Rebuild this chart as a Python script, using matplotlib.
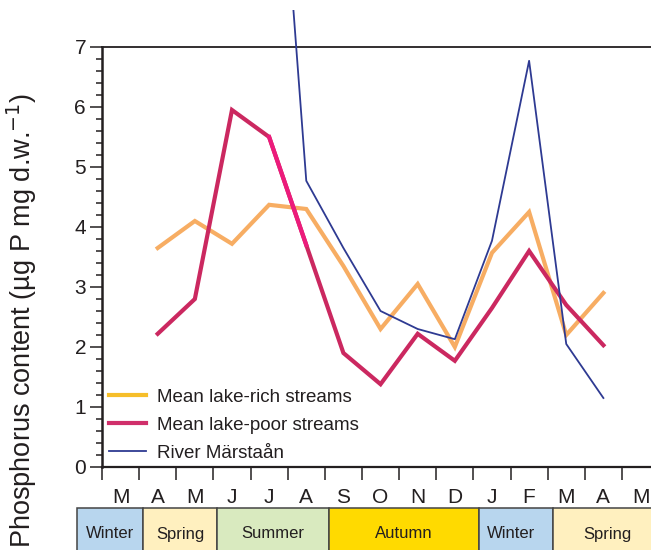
import matplotlib
matplotlib.use("Agg")
import matplotlib.pyplot as plt
from matplotlib.lines import Line2D
from matplotlib.patches import Rectangle
from matplotlib.transforms import Bbox, TransformedBbox, blended_transform_factory
import numpy as np

plt.rcParams['font.family'] = ['Liberation Sans', 'DejaVu Sans']

months = ["M", "A", "M", "J", "J", "A", "S", "O", "N", "D", "J", "F", "M", "A", "M"]
data_idx = [1, 2, 3, 4, 5, 6, 7, 8, 9, 10, 11, 12, 13]
lake_rich = [3.65, 4.1, 3.72, 4.37, 4.3, 3.35, 2.3, 3.05, 2.0, 3.57, 4.25, 2.2, 2.9]
lake_poor = [2.22, 2.8, 5.95, 5.5, 3.7, 1.9, 1.38, 2.22, 1.77, 2.65, 3.6, 2.7, 2.03]
river_idx = [4, 5, 6, 7, 8, 9, 10, 11, 12, 13]
river = [13.0, 4.77, 3.65, 2.6, 2.3, 2.13, 3.77, 6.77, 2.05, 1.15]

seasons = ["Winter", "Spring", "Summer", "Autumn", "Winter", "Spring"]
season_edges = [-0.67, 1.1, 3.1, 6.1, 10.15, 12.15, 15.5]
season_label_x = [0.22, 2.1, 4.6, 8.12, 11.02, 13.62]
season_colors = ["#B8D6EE", "#FFF0BF", "#D9EABF", "#FFDA00", "#B8D6EE", "#FFF0BF"]

W, H = 651, 550
fig = plt.figure(figsize=(W / 100, H / 100), dpi=100)
left, right, bottom, top = 102 / W, 1.0, 1 - 467 / H, 1 - 47 / H
ax = fig.add_axes([left, bottom, right - left, top - bottom])

xc = np.array(data_idx) + 0.5
c_rich = "#F7AD63"
c_poor = "#CB2860"
c_river = "#2E3A92"

ax.plot(xc, lake_rich, color=c_rich, lw=3.0, solid_joinstyle='miter', zorder=3)
ax.plot(xc, lake_poor, color=c_poor, lw=3.0, solid_joinstyle='miter', zorder=4)
# brighter pink segment between J and A
ax.plot(xc[3:5], lake_poor[3:5], color="#EC1B7B", lw=3.0, zorder=4)
rl, = ax.plot(np.array(river_idx) + 0.5, river, color=c_river, lw=1.3, zorder=5)
rl.set_clip_box(TransformedBbox(Bbox([[left, 0], [1, 1 - 10 / H]]), fig.transFigure))

ax.set_xlim(0, (W - 102) / 37.14)
ax.set_ylim(0, 7)

ax.set_xticks(np.arange(0, 15))
ax.set_xticklabels([])
ax.set_xticks(np.arange(15) + 0.5, minor=True)
ax.set_xticklabels(months, minor=True, fontsize=15, color="#231F20")
ax.tick_params(axis='x', which='major', direction='out', length=9, width=1.1, color="#231F20")
ax.tick_params(axis='x', which='minor', length=0, pad=15)

ax.set_yticks(np.arange(0, 8))
ax.set_yticks(np.arange(0, 7.01, 0.2), minor=True)
ax.tick_params(axis='y', which='major', direction='out', length=8.5, width=1.1,
               labelsize=15, pad=3, color="#231F20", labelcolor="#231F20")
ax.tick_params(axis='y', which='minor', direction='out', length=4.5, width=1.1, color="#231F20")

ax.spines['right'].set_visible(False)
ax.spines['left'].set_linewidth(1.8)
ax.spines['bottom'].set_linewidth(1.6)
ax.spines['top'].set_linewidth(1.3)
for s in ['left', 'bottom', 'top']:
    ax.spines[s].set_color("#231F20")

ax.set_ylabel("Phosphorus content (µg P mg d.w.$^{-1}$)", fontsize=19.5, color="#231F20")
ax.yaxis.set_label_coords(-0.115, 0.348)

handles = [Line2D([], [], color="#F6BE2A", lw=3.0),
           Line2D([], [], color="#D02F6B", lw=3.0),
           Line2D([], [], color=c_river, lw=1.3)]
labels = ["Mean lake-rich streams", "Mean lake-poor streams", "River Märstaån"]
ax.legend(handles, labels, loc='lower left', bbox_to_anchor=(-0.008, -0.014), frameon=False,
          fontsize=13.5, handlelength=2.0, handletextpad=0.55, labelspacing=0.58,
          borderaxespad=0.2, labelcolor="#231F20")

tr = blended_transform_factory(ax.transData, fig.transFigure)
y0 = -0.01
y1 = 1 - 508 / H
for i, name in enumerate(seasons):
    r = Rectangle((season_edges[i], y0), season_edges[i + 1] - season_edges[i], y1 - y0,
                  transform=tr, facecolor=season_colors[i], edgecolor="#444444", lw=1.1,
                  clip_on=False, zorder=1)
    ax.add_patch(r)
    ax.text(season_label_x[i], 1 - 534 / H, name, transform=tr, ha='center', va='center',
            fontsize=12, color="#231F20", clip_on=False, zorder=2)

fig.savefig("out.png", dpi=100)
